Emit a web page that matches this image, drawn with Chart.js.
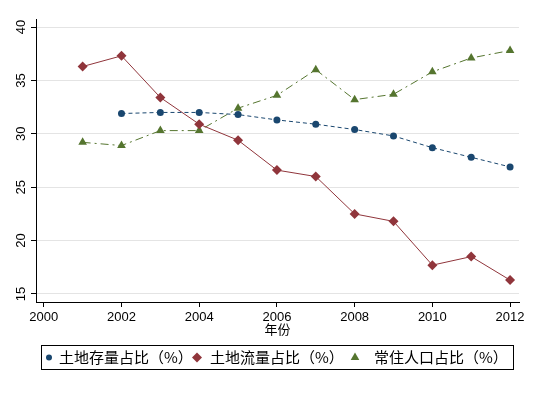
<!DOCTYPE html>
<html>
<head>
<meta charset="utf-8">
<script src="https://cdn.jsdelivr.net/npm/chart.js@4/dist/chart.umd.min.js"></script>
<style>
    html, body { margin: 0; padding: 0; background: #fff; }
    #wrap { width: 538px; height: 394px; }
</style>
</head>
<body>
<div id="wrap"><canvas id="chart" width="538" height="394"></canvas></div>
<script>
// dati
const years = [2001, 2002, 2003, 2004, 2005, 2006, 2007, 2008, 2009, 2010, 2011, 2012];
const landStock = [null, 31.9, 32.0, 32.0, 31.8, 31.3, 30.9, 30.4, 29.8, 28.7, 27.8, 26.9];
const landFlow = [36.3, 37.3, 33.4, 30.9, 29.4, 26.6, 26.0, 22.5, 21.8, 17.7, 18.5, 16.3];
const population = [29.2, 28.9, 30.3, 30.3, 32.4, 33.6, 36.0, 33.2, 33.7, 35.8, 37.1, 37.8];
const seriesNames = ['土地存量占比（%）', '土地流量占比（%）', '常住人口占比（%）'];
const xTicks = [2000, 2002, 2004, 2006, 2008, 2010, 2012];
const yTicks = [15, 20, 25, 30, 35, 40];
const xTitle = '年份';

const NAVY = 'rgb(26, 71, 111)';
const MAROON = 'rgb(144, 53, 59)';
const GREEN = 'rgb(85, 117, 47)';
const FONT = '"Liberation Sans", "Noto Sans CJK SC", sans-serif';

const toPoints = values => years.map((y, i) => ({ x: y, y: values[i] }));

// etichette asse y ruotate + legenda con bordo
const stataPlugin = {
    id: 'stata',
    afterDraw(chart) {
        const ctx = chart.ctx;
        const yScale = chart.scales.y;
        ctx.save();
        ctx.fillStyle = '#000';
        ctx.font = '13px ' + FONT;
        ctx.textAlign = 'center';
        ctx.textBaseline = 'middle';
        yTicks.forEach(v => {
            const py = yScale.getPixelForValue(v);
            ctx.save();
            ctx.translate(21, py);
            ctx.rotate(-Math.PI / 2);
            ctx.fillText(String(v), 0, 0);
            ctx.restore();
        });

        // legenda
        ctx.strokeStyle = '#000';
        ctx.lineWidth = 1;
        ctx.strokeRect(41.5, 345.5, 472, 24);
        const ly = 357.5;
        const items = [
            { marker: 49, text: 59 },
            { marker: 197, text: 210 },
            { marker: 355, text: 374 }
        ];
        ctx.textAlign = 'left';
        ctx.font = '15px "Noto Sans CJK SC", sans-serif';
        items.forEach((it, i) => {
            const ds = chart.data.datasets[i];
            ctx.fillStyle = ds.pointBackgroundColor;
            ctx.strokeStyle = ds.pointBackgroundColor;
            Chart.helpers.drawPoint(ctx, {
                pointStyle: ds.pointStyle,
                rotation: 0,
                radius: ds.pointStyle === 'circle' ? 3 : ds.pointRadius,
                borderWidth: 0
            }, it.marker, ly);
            ctx.fillStyle = '#000';
            ctx.fillText(seriesNames[i], it.text, ly);
        });
        ctx.restore();
    }
};

new Chart(document.getElementById('chart'), {
    type: 'line',
    data: {
        datasets: [
            {
                label: seriesNames[0],
                data: toPoints(landStock),
                borderColor: NAVY,
                borderWidth: 1,
                borderDash: [4, 3],
                pointStyle: 'circle',
                pointRadius: 3.5,
                pointBackgroundColor: NAVY,
                pointBorderColor: NAVY,
                pointBorderWidth: 0,
                spanGaps: false
            },
            {
                label: seriesNames[1],
                data: toPoints(landFlow),
                borderColor: MAROON,
                borderWidth: 1,
                pointStyle: 'rectRot',
                pointRadius: 5,
                pointBackgroundColor: MAROON,
                pointBorderColor: MAROON,
                pointBorderWidth: 0
            },
            {
                label: seriesNames[2],
                data: toPoints(population),
                borderColor: GREEN,
                borderWidth: 1,
                borderDash: [8, 4, 2, 4],
                pointStyle: 'triangle',
                pointRadius: 5,
                pointBackgroundColor: GREEN,
                pointBorderColor: GREEN,
                pointBorderWidth: 0
            }
        ]
    },
    options: {
        responsive: false,
        animation: false,
        devicePixelRatio: 1,
        layout: {
            padding: { left: 0, right: 19, top: 19, bottom: 57 }
        },
        plugins: {
            legend: { display: false },
            tooltip: { enabled: false }
        },
        scales: {
            x: {
                type: 'linear',
                min: 1999.8,
                max: 2012.23,
                afterBuildTicks: s => { s.ticks = xTicks.map(v => ({ value: v })); },
                afterFit: s => { s.height = 35; },
                border: { display: true, color: '#000', width: 1 },
                grid: {
                    drawOnChartArea: false,
                    drawTicks: true,
                    tickLength: 5,
                    tickColor: '#000'
                },
                ticks: {
                    color: '#000',
                    font: { family: FONT, size: 13 },
                    padding: 3,
                    maxRotation: 0,
                    callback: v => String(v)
                },
                title: {
                    display: true,
                    text: xTitle,
                    color: '#000',
                    font: { family: '"Noto Sans CJK SC", sans-serif', size: 13 },
                    padding: 0
                }
            },
            y: {
                type: 'linear',
                min: 14.25,
                max: 40.75,
                afterBuildTicks: s => { s.ticks = yTicks.map(v => ({ value: v })); },
                afterFit: s => { s.width = 36; },
                border: { display: true, color: '#000', width: 1 },
                grid: {
                    color: '#e4e4e4',
                    lineWidth: 1,
                    drawTicks: true,
                    tickLength: 5,
                    tickColor: '#000'
                },
                ticks: { display: false }
            }
        }
    },
    plugins: [stataPlugin]
});
</script>
</body>
</html>
